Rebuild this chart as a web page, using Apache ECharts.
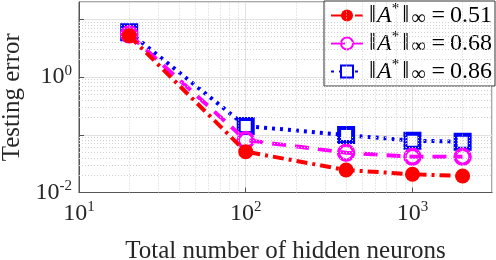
<!DOCTYPE html>
<html><head><meta charset="utf-8">
<script src="https://cdn.jsdelivr.net/npm/echarts@6/dist/echarts.min.js"></script>
<style>html,body{margin:0;padding:0;background:#fff}#c{width:496px;height:260px}</style>
</head><body><div id="c"></div>
<script>
const neurons = [20, 100, 400, 1000, 2000];
const err051 = [5.2, 0.051, 0.0245, 0.0207, 0.0193];
const err068 = [5.5, 0.081, 0.049, 0.0417, 0.0417];
const err086 = [6.0, 0.142, 0.099, 0.079, 0.076];
const seriesNames = ['0.51', '0.68', '0.86'];
const xMin = 10, xMax = 3000, yMin = 0.01, yMax = 20;

const F = 'Liberation Serif';
const mult = [2,3,4,5,6,7,8,9];
const minorX = [], minorY = [];
[10,100,1000].forEach(d => mult.forEach(m => { if (d*m < xMax) minorX.push(d*m); }));
[0.01,0.1,1,10].forEach(d => mult.forEach(m => { if (d*m < yMax) minorY.push(+(d*m).toPrecision(3)); }));

function supLabel(v, onlyEven) {
  const l = Math.log10(v), e = Math.round(l);
  if (Math.abs(l - e) > 1e-6) return '';
  if (onlyEven && e % 2 !== 0) return '';
  return '{b|10}{s|' + e + '}';
}
const labelRich = {
  b: {fontFamily: F, fontSize: 24, color: '#262626'},
  s: {fontFamily: F, fontSize: 15, color: '#262626', padding: [0,0,13,0]}
};
const legRich = {
  bar: {fontFamily: F, fontSize: 25, color: '#000', padding: [0,1,0,1]},
  i: {fontFamily: F, fontSize: 24, fontStyle: 'italic', color: '#000'},
  sup: {fontFamily: F, fontSize: 15, color: '#000', padding: [0,2,12,0]},
  sub: {fontFamily: F, fontSize: 20, color: '#000', padding: [7,0,0,1]},
  eq: {fontFamily: F, fontSize: 24, color: '#000', padding: [0,5,0,6]},
  n: {fontFamily: F, fontSize: 24, color: '#000'}
};
const mk = (arr) => arr.map((x, i) => [neurons[i], x]);

const minorLines = {
  silent: true, symbol: 'none', animation: false,
  label: {show: false},
  lineStyle: {color: '#d0d0d0', type: [1, 2], width: 1},
  data: minorX.map(v => ({xAxis: v})).concat(minorY.map(v => ({yAxis: v})))
};

const chart = echarts.init(document.getElementById('c'));
chart.setOption({
  animation: false,
  grid: {left: 79, right: 4, top: 2, bottom: 67.5, outerBoundsMode: 'none', containLabel: false,
         show: true, borderColor: '#555', borderWidth: 1, backgroundColor: 'transparent'},
  xAxis: {
    type: 'log', logBase: 10, min: xMin, max: xMax,
    name: 'Total number of hidden neurons', nameLocation: 'middle', nameGap: 46,
    nameTextStyle: {fontFamily: F, fontSize: 25, color: '#262626'},
    axisLine: {lineStyle: {color: '#555'}},
    axisTick: {inside: true, length: 5, lineStyle: {color: '#555'}},
    axisLabel: {margin: 7, formatter: v => supLabel(v, false), rich: labelRich, showMaxLabel: false},
    splitLine: {show: true, lineStyle: {color: '#e2e2e2', width: 1}}
  },
  yAxis: {
    type: 'log', logBase: 10, min: yMin, max: yMax,
    name: 'Testing error', nameLocation: 'middle', nameGap: 53,
    nameTextStyle: {fontFamily: F, fontSize: 25, color: '#262626'},
    axisLine: {lineStyle: {color: '#555'}},
    axisTick: {inside: true, length: 5, lineStyle: {color: '#555'}},
    axisLabel: {margin: 7, formatter: v => supLabel(v, true), rich: labelRich, showMaxLabel: false},
    splitLine: {show: true, lineStyle: {color: '#e2e2e2', width: 1}}
  },
  legend: {
    orient: 'vertical', right: 1, top: 1,
    backgroundColor: '#fff', borderColor: '#333', borderWidth: 1, borderRadius: 0,
    padding: [1, 3, 1, 6], itemGap: 1, itemWidth: 32, itemHeight: 15,
    formatter: name => '{bar|‖}{i|A}{sup|*}{bar|‖}{sub|∞}{eq|=}{n|' + name + '}',
    textStyle: {rich: legRich},
    data: seriesNames
  },
  series: [
    {
      name: seriesNames[0], type: 'line', data: mk(err051), z: 5,
      lineStyle: {color: '#ff0000', width: 4, type: [11, 5, 3, 5]},
      symbol: 'circle', symbolSize: 15,
      itemStyle: {color: '#ff0000'},
      markLine: minorLines
    },
    {
      name: seriesNames[1], type: 'line', data: mk(err068), z: 4,
      lineStyle: {color: '#ff00ff', width: 4, type: [14, 9]},
      symbol: 'circle', symbolSize: 15,
      itemStyle: {color: 'rgba(255,255,255,0)', borderColor: '#ff00ff', borderWidth: 3.5}
    },
    {
      name: seriesNames[2], type: 'line', data: mk(err086), z: 3,
      lineStyle: {color: '#0000ff', width: 4, type: [3, 5]},
      symbol: 'rect', symbolSize: 14,
      itemStyle: {color: '#ffffff', borderColor: '#0000ff', borderWidth: 4}
    }
  ]
});
</script></body></html>
